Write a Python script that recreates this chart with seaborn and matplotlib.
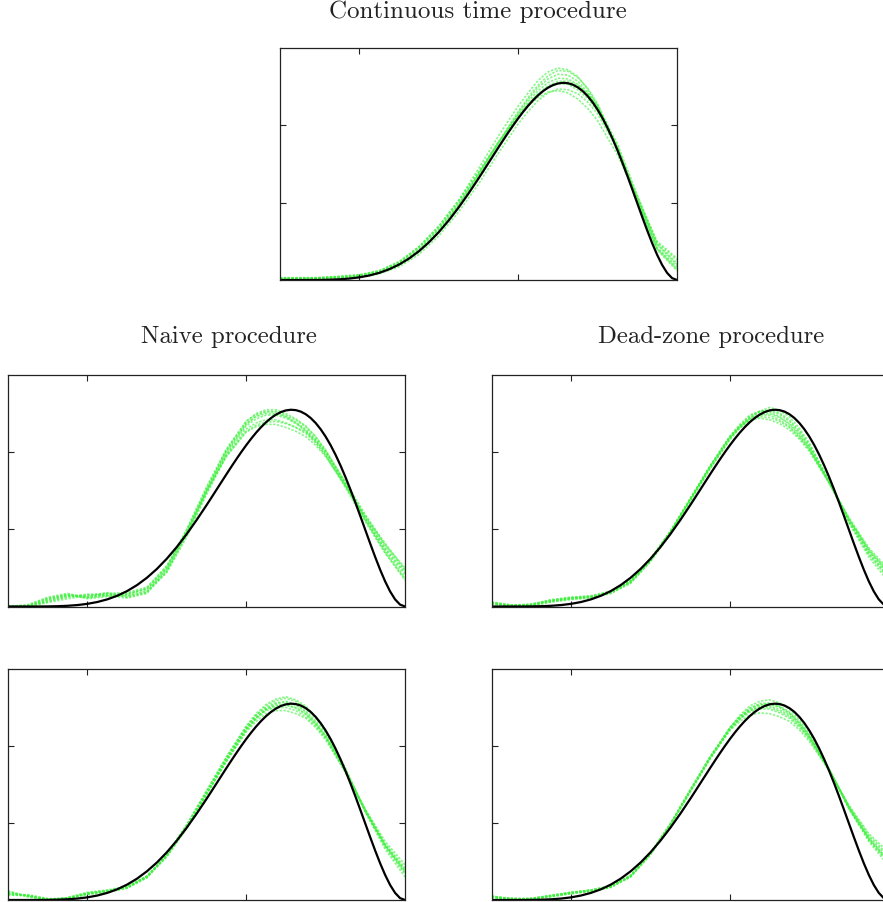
import numpy as np
import pandas as pd
import matplotlib
matplotlib.use("Agg")
import matplotlib.pyplot as plt
import seaborn as sns

# ---- data ----
# true curve (black)
x_true = [0.0, 0.025, 0.05, 0.075, 0.1, 0.125, 0.15, 0.175, 0.2, 0.225, 0.25,
          0.275, 0.3, 0.325, 0.35, 0.375, 0.4, 0.425, 0.45, 0.475, 0.5,
          0.5125, 0.525, 0.5375, 0.55, 0.5625, 0.575, 0.5875, 0.6, 0.6125, 0.625,
          0.6375, 0.65, 0.6625, 0.675, 0.6875, 0.7, 0.7125, 0.725, 0.7375, 0.75,
          0.7625, 0.775, 0.7875, 0.8, 0.8125, 0.825, 0.8375, 0.85, 0.8625, 0.875,
          0.8875, 0.9, 0.9125, 0.925, 0.9375, 0.95, 0.9625, 0.975, 0.9875, 1.0]
y_true = [0.0, 0.0, 0.00005, 0.0003, 0.0014, 0.0039, 0.0092, 0.0188, 0.0344, 0.0582, 0.0923,
          0.1389, 0.2000, 0.2775, 0.3728, 0.4867, 0.6193, 0.7702, 0.9378, 1.1197, 1.3125,
          1.4117, 1.5118, 1.6122, 1.7122, 1.8108, 1.9073, 2.0008, 2.0902, 2.1746, 2.2531,
          2.3245, 2.3879, 2.4422, 2.4865, 2.5199, 2.5412, 2.5498, 2.5449, 2.5257, 2.4917,
          2.4425, 2.3778, 2.2976, 2.2020, 2.0914, 1.9663, 1.8278, 1.6772, 1.5160, 1.3464,
          1.1707, 0.9920, 0.8137, 0.6399, 0.4753, 0.3250, 0.1952, 0.0925, 0.0247, 0.0]

# estimated curves (green), same x grid for every run
x_est = [0.0, 0.05, 0.1, 0.15, 0.2, 0.25, 0.3, 0.35, 0.4, 0.45, 0.5, 0.55, 0.6,
         0.625, 0.65, 0.675, 0.7, 0.725, 0.75, 0.775, 0.8, 0.85, 0.9, 0.95, 1.0]

continuous_runs = [
    [0.02, 0.02, 0.02, 0.03, 0.05, 0.10, 0.21, 0.39, 0.65, 0.98, 1.37, 1.78, 2.18, 2.36, 2.52, 2.64, 2.71, 2.70, 2.62, 2.48, 2.28, 1.72, 1.02, 0.40, 0.14],
    [0.03, 0.03, 0.03, 0.04, 0.06, 0.11, 0.22, 0.40, 0.66, 0.98, 1.36, 1.76, 2.14, 2.31, 2.45, 2.55, 2.61, 2.60, 2.53, 2.41, 2.23, 1.72, 1.05, 0.42, 0.18],
    [0.01, 0.01, 0.02, 0.03, 0.04, 0.08, 0.17, 0.33, 0.57, 0.88, 1.24, 1.64, 2.02, 2.18, 2.32, 2.42, 2.47, 2.46, 2.41, 2.30, 2.15, 1.69, 1.06, 0.46, 0.22],
    [0.02, 0.02, 0.03, 0.04, 0.06, 0.10, 0.20, 0.37, 0.62, 0.95, 1.33, 1.73, 2.10, 2.27, 2.41, 2.51, 2.57, 2.57, 2.52, 2.41, 2.25, 1.76, 1.10, 0.48, 0.26],
    [0.03, 0.02, 0.02, 0.03, 0.05, 0.09, 0.19, 0.36, 0.62, 0.96, 1.36, 1.77, 2.16, 2.34, 2.49, 2.60, 2.66, 2.65, 2.57, 2.43, 2.24, 1.70, 1.03, 0.41, 0.15],
    [0.01, 0.02, 0.03, 0.05, 0.07, 0.12, 0.23, 0.42, 0.68, 1.01, 1.39, 1.78, 2.13, 2.28, 2.40, 2.49, 2.54, 2.53, 2.46, 2.35, 2.19, 1.71, 1.08, 0.46, 0.20],
    [0.02, 0.03, 0.02, 0.04, 0.06, 0.12, 0.24, 0.43, 0.69, 1.03, 1.44, 1.86, 2.25, 2.42, 2.58, 2.69, 2.74, 2.72, 2.63, 2.47, 2.26, 1.69, 1.00, 0.39, 0.12],
    [0.02, 0.02, 0.03, 0.04, 0.06, 0.11, 0.23, 0.43, 0.70, 1.03, 1.40, 1.78, 2.11, 2.25, 2.36, 2.43, 2.45, 2.42, 2.34, 2.22, 2.06, 1.62, 1.06, 0.50, 0.28],
]

naive_runs = [
    [0.0, 0.00, 0.08, 0.15, 0.12, 0.15, 0.16, 0.22, 0.48, 0.95, 1.50, 2.00, 2.36, 2.47, 2.52, 2.53, 2.48, 2.42, 2.33, 2.20, 2.02, 1.58, 1.14, 0.74, 0.42],
    [0.0, 0.02, 0.12, 0.17, 0.10, 0.13, 0.14, 0.20, 0.44, 0.90, 1.45, 1.96, 2.30, 2.38, 2.42, 2.42, 2.38, 2.32, 2.24, 2.12, 1.96, 1.56, 1.16, 0.80, 0.50],
    [0.0, 0.00, 0.05, 0.10, 0.14, 0.18, 0.12, 0.18, 0.50, 1.00, 1.55, 2.04, 2.40, 2.50, 2.55, 2.55, 2.50, 2.43, 2.34, 2.20, 2.03, 1.60, 1.12, 0.70, 0.34],
    [0.0, 0.01, 0.10, 0.16, 0.13, 0.16, 0.15, 0.24, 0.52, 0.97, 1.48, 1.94, 2.26, 2.33, 2.36, 2.36, 2.32, 2.27, 2.20, 2.09, 1.94, 1.57, 1.18, 0.82, 0.48],
    [0.0, 0.00, 0.06, 0.13, 0.15, 0.17, 0.13, 0.19, 0.46, 0.93, 1.48, 1.98, 2.34, 2.43, 2.48, 2.48, 2.44, 2.37, 2.28, 2.15, 1.98, 1.56, 1.12, 0.72, 0.38],
    [0.0, 0.01, 0.09, 0.14, 0.11, 0.14, 0.17, 0.23, 0.50, 0.98, 1.53, 2.02, 2.37, 2.46, 2.50, 2.50, 2.46, 2.39, 2.30, 2.17, 2.00, 1.59, 1.15, 0.76, 0.44],
    [0.0, 0.00, 0.07, 0.12, 0.16, 0.14, 0.11, 0.17, 0.45, 0.94, 1.51, 2.03, 2.40, 2.49, 2.53, 2.52, 2.46, 2.38, 2.27, 2.13, 1.96, 1.54, 1.10, 0.69, 0.36],
    [0.0, 0.02, 0.11, 0.15, 0.12, 0.17, 0.18, 0.25, 0.53, 0.99, 1.50, 1.95, 2.27, 2.35, 2.39, 2.40, 2.37, 2.32, 2.26, 2.15, 2.01, 1.62, 1.19, 0.79, 0.46],
]

deadzone_runs = [
    [0.05, 0.01, 0.02, 0.07, 0.10, 0.12, 0.18, 0.32, 0.60, 0.96, 1.38, 1.80, 2.18, 2.33, 2.45, 2.52, 2.55, 2.51, 2.42, 2.28, 2.10, 1.62, 1.10, 0.68, 0.38],
    [0.04, 0.00, 0.03, 0.09, 0.12, 0.14, 0.20, 0.34, 0.62, 0.98, 1.40, 1.82, 2.20, 2.34, 2.43, 2.48, 2.48, 2.42, 2.33, 2.20, 2.04, 1.60, 1.12, 0.72, 0.44],
    [0.06, 0.02, 0.01, 0.06, 0.09, 0.11, 0.17, 0.30, 0.58, 0.94, 1.36, 1.78, 2.16, 2.32, 2.44, 2.53, 2.58, 2.54, 2.46, 2.31, 2.12, 1.63, 1.08, 0.64, 0.32],
    [0.03, 0.01, 0.03, 0.08, 0.11, 0.13, 0.19, 0.33, 0.61, 0.97, 1.39, 1.82, 2.21, 2.36, 2.48, 2.53, 2.52, 2.46, 2.36, 2.22, 2.05, 1.60, 1.13, 0.74, 0.46],
    [0.05, 0.00, 0.02, 0.07, 0.10, 0.13, 0.18, 0.31, 0.59, 0.95, 1.37, 1.79, 2.17, 2.31, 2.42, 2.46, 2.45, 2.40, 2.32, 2.19, 2.03, 1.61, 1.14, 0.73, 0.42],
    [0.04, 0.02, 0.02, 0.08, 0.11, 0.12, 0.19, 0.33, 0.60, 0.97, 1.39, 1.81, 2.19, 2.34, 2.47, 2.53, 2.54, 2.49, 2.40, 2.26, 2.08, 1.61, 1.10, 0.67, 0.36],
    [0.05, 0.01, 0.01, 0.06, 0.10, 0.12, 0.17, 0.31, 0.59, 0.96, 1.38, 1.81, 2.19, 2.33, 2.44, 2.49, 2.50, 2.45, 2.37, 2.24, 2.07, 1.63, 1.12, 0.70, 0.40],
    [0.03, 0.02, 0.03, 0.08, 0.12, 0.13, 0.19, 0.32, 0.61, 0.97, 1.40, 1.82, 2.20, 2.32, 2.41, 2.44, 2.42, 2.37, 2.29, 2.17, 2.01, 1.60, 1.15, 0.76, 0.48],
]

naive_runs_2 = [
    [0.08, 0.06, 0.01, 0.02, 0.08, 0.11, 0.16, 0.30, 0.58, 0.96, 1.40, 1.84, 2.24, 2.40, 2.52, 2.59, 2.62, 2.58, 2.50, 2.36, 2.18, 1.70, 1.16, 0.70, 0.36],
    [0.12, 0.04, 0.00, 0.03, 0.10, 0.13, 0.18, 0.31, 0.57, 0.94, 1.38, 1.82, 2.22, 2.37, 2.48, 2.53, 2.54, 2.50, 2.42, 2.29, 2.12, 1.67, 1.17, 0.72, 0.40],
    [0.06, 0.07, 0.02, 0.01, 0.07, 0.10, 0.15, 0.29, 0.59, 0.98, 1.42, 1.86, 2.26, 2.42, 2.54, 2.61, 2.64, 2.60, 2.52, 2.38, 2.20, 1.71, 1.14, 0.66, 0.30],
    [0.10, 0.05, 0.00, 0.02, 0.09, 0.12, 0.17, 0.31, 0.58, 0.95, 1.38, 1.80, 2.18, 2.32, 2.42, 2.46, 2.46, 2.42, 2.36, 2.24, 2.08, 1.66, 1.18, 0.76, 0.46],
    [0.09, 0.06, 0.01, 0.03, 0.08, 0.12, 0.17, 0.30, 0.57, 0.93, 1.36, 1.80, 2.20, 2.35, 2.46, 2.50, 2.50, 2.46, 2.38, 2.26, 2.10, 1.66, 1.16, 0.73, 0.42],
    [0.07, 0.05, 0.01, 0.02, 0.09, 0.11, 0.16, 0.31, 0.59, 0.97, 1.41, 1.85, 2.25, 2.40, 2.50, 2.56, 2.58, 2.54, 2.46, 2.32, 2.15, 1.69, 1.15, 0.69, 0.34],
    [0.11, 0.05, 0.01, 0.02, 0.08, 0.11, 0.17, 0.30, 0.58, 0.96, 1.40, 1.83, 2.22, 2.37, 2.47, 2.52, 2.53, 2.49, 2.41, 2.28, 2.12, 1.68, 1.17, 0.71, 0.38],
    [0.08, 0.06, 0.00, 0.03, 0.09, 0.12, 0.16, 0.29, 0.56, 0.93, 1.37, 1.81, 2.21, 2.36, 2.48, 2.55, 2.57, 2.53, 2.44, 2.30, 2.13, 1.67, 1.15, 0.71, 0.37],
]

deadzone_runs_2 = [
    [0.04, 0.02, 0.01, 0.05, 0.09, 0.12, 0.17, 0.31, 0.60, 0.98, 1.42, 1.85, 2.23, 2.38, 2.49, 2.55, 2.56, 2.52, 2.44, 2.31, 2.14, 1.70, 1.20, 0.80, 0.50],
    [0.05, 0.01, 0.02, 0.06, 0.10, 0.13, 0.18, 0.32, 0.61, 0.99, 1.43, 1.86, 2.22, 2.35, 2.44, 2.48, 2.48, 2.43, 2.36, 2.24, 2.09, 1.68, 1.22, 0.84, 0.58],
    [0.03, 0.02, 0.01, 0.04, 0.08, 0.11, 0.16, 0.30, 0.59, 0.97, 1.41, 1.84, 2.24, 2.40, 2.52, 2.58, 2.60, 2.56, 2.48, 2.34, 2.16, 1.70, 1.18, 0.76, 0.44],
    [0.04, 0.00, 0.02, 0.06, 0.10, 0.13, 0.18, 0.31, 0.60, 0.98, 1.42, 1.84, 2.20, 2.32, 2.40, 2.43, 2.42, 2.38, 2.32, 2.21, 2.06, 1.68, 1.23, 0.86, 0.62],
    [0.05, 0.02, 0.01, 0.05, 0.09, 0.12, 0.17, 0.30, 0.59, 0.97, 1.40, 1.83, 2.21, 2.35, 2.46, 2.51, 2.52, 2.47, 2.40, 2.27, 2.11, 1.69, 1.20, 0.80, 0.52],
    [0.04, 0.01, 0.02, 0.05, 0.09, 0.12, 0.18, 0.32, 0.61, 0.99, 1.43, 1.86, 2.24, 2.38, 2.49, 2.54, 2.54, 2.50, 2.42, 2.29, 2.12, 1.69, 1.19, 0.78, 0.48],
    [0.05, 0.01, 0.01, 0.05, 0.10, 0.12, 0.17, 0.31, 0.60, 0.98, 1.42, 1.85, 2.22, 2.36, 2.46, 2.50, 2.50, 2.45, 2.38, 2.26, 2.10, 1.69, 1.21, 0.82, 0.55],
    [0.03, 0.02, 0.02, 0.06, 0.09, 0.13, 0.18, 0.31, 0.60, 0.98, 1.41, 1.84, 2.23, 2.37, 2.47, 2.53, 2.55, 2.51, 2.43, 2.30, 2.13, 1.70, 1.19, 0.79, 0.49],
]

x_ticks = [0.2, 0.6]
y_ticks = [1, 2]

sns.set_style("white")
plt.rcParams["font.family"] = ["cmr10", "DejaVu Serif"]
plt.rcParams["axes.formatter.use_mathtext"] = True

W, H = 883, 902
fig = plt.figure(figsize=(W / 100, H / 100), dpi=100)


def px_axes(left, top, w, h):
    return fig.add_axes([left / W, 1 - (top + h) / H, w / W, h / H])


def draw_panel(ax, runs):
    for run in runs:
        df = pd.DataFrame({"x": x_est, "y": run})
        sns.lineplot(data=df, x="x", y="y", ax=ax, color="#3cf03c", alpha=0.6,
                     linewidth=1.2, linestyle=(0, (1.4, 0.9)), sort=False)
    sns.lineplot(x=x_true, y=y_true, ax=ax, color="black", linewidth=1.6, sort=False)
    ax.set_xlim(0, 1)
    ax.set_ylim(0, 3)
    ax.set_xticks(x_ticks)
    ax.set_yticks(y_ticks)
    ax.set_xticklabels([])
    ax.set_yticklabels([])
    ax.set_xlabel("")
    ax.set_ylabel("")
    ax.tick_params(direction="in", length=4, width=0.8, color="#222222",
                   top=True, right=True, bottom=True, left=True)
    for s in ax.spines.values():
        s.set_color("#222222")
        s.set_linewidth(0.9)


ax_top = px_axes(280, 48, 397, 232)
ax_ml = px_axes(8, 375, 397, 231.5)
ax_mr = px_axes(491.7, 375, 397, 231.5)
ax_bl = px_axes(8, 669, 397, 231)
ax_br = px_axes(491.7, 669, 397, 231)

draw_panel(ax_top, continuous_runs)
draw_panel(ax_ml, naive_runs)
draw_panel(ax_mr, deadzone_runs)
draw_panel(ax_bl, naive_runs_2)
draw_panel(ax_br, deadzone_runs_2)

fig.text(478 / W, 1 - 12 / H, "Continuous time procedure", ha="center", va="center",
         fontsize=18, color="#222222")
fig.text(229 / W, 1 - 337 / H, "Naive procedure", ha="center", va="center",
         fontsize=17.8, color="#222222")
fig.text(711 / W, 1 - 337 / H, "Dead-zone procedure", ha="center", va="center",
         fontsize=17.8, color="#222222")

fig.savefig("out.png", dpi=100)
